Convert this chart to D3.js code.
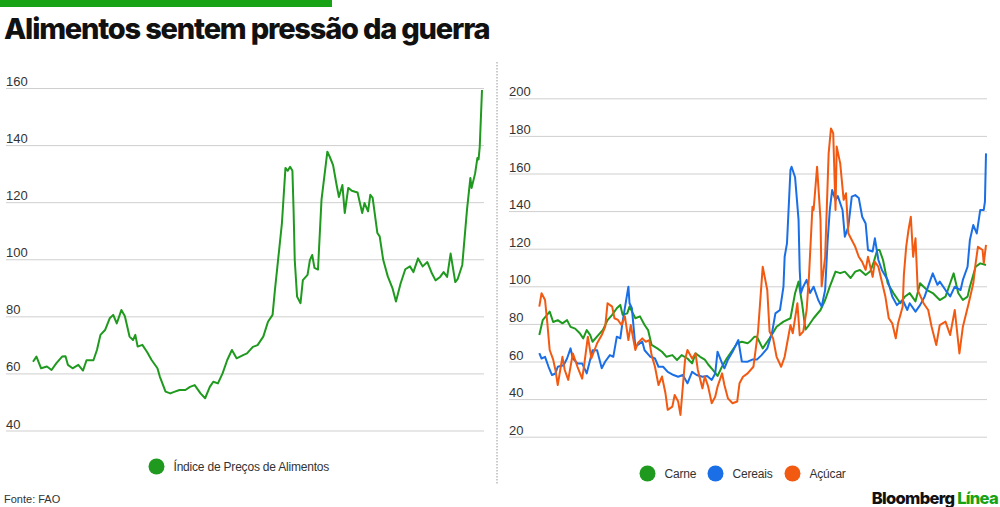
<!DOCTYPE html>
<html>
<head>
<meta charset="utf-8">
<script src="https://cdn.jsdelivr.net/npm/d3@7"></script>
<style>
  body { margin: 0; background: #fff; }
  svg { display: block; }
  .tick text { font-family: 'Liberation Sans', Arial, sans-serif; font-size: 13px; fill: #333; }
  .tick line { stroke: #cfcfcf; }
</style>
</head>
<body>
<div id="chart"></div>
<script>
// FAO indices, monthly readings ("YYYY-MM", value)
const foodIndex = [
  ['1990-01',64.1],['1990-04',65.9],['1990-08',61.8],['1991-01',62.4],['1991-05',61.2],['1991-09',63.5],
  ['1992-02',65.9],['1992-05',66],['1992-07',63],['1992-11',61.8],['1993-04',63],['1993-08',61],
  ['1993-11',64.6],['1994-05',64.6],['1994-08',68.2],['1994-11',73.5],['1995-03',75.2],['1995-07',79.3],
  ['1995-10',80.5],['1996-01',77.5],['1996-05',82.2],['1996-08',80],['1996-12',72.9],['1997-03',71.7],
  ['1997-05',73.5],['1997-07',69.4],['1997-11',70],['1998-03',67.6],['1998-07',64.7],['1998-12',61.8],
  ['1999-02',58.9],['1999-07',53.6],['1999-11',53],['2000-03',53.6],['2000-07',54.2],['2000-12',54.2],
  ['2001-04',55.3],['2001-08',55.9],['2002-01',53],['2002-05',51.3],['2002-09',55.3],['2002-12',57.1],
  ['2003-04',56.5],['2003-08',60],['2003-12',64.7],['2004-04',68.2],['2004-08',65.3],['2005-02',66.5],
  ['2005-05',67],['2005-10',69.3],['2006-02',69.9],['2006-07',72.9],['2006-11',78.1],['2007-03',80.5],
  ['2007-05',89.2],['2007-08',100.9],['2007-11',112.7],['2008-02',132],['2008-04',131],['2008-06',132.4],
  ['2008-08',131],['2008-09',117],['2008-10',99.7],['2008-12',86.9],['2009-03',84.6],['2009-05',92.7],
  ['2009-09',94.5],['2009-11',99.7],['2010-01',101.5],['2010-03',97],['2010-06',96.4],['2010-09',120.8],
  ['2011-02',137.7],['2011-04',136],['2011-07',133],['2011-10',126],['2011-12',121.8],['2012-03',126],
  ['2012-05',116.2],['2012-08',125],['2012-11',124],['2013-04',123.4],['2013-08',116.2],['2013-10',119.7],
  ['2014-01',116.8],['2014-03',122.6],['2014-05',121.5],['2014-09',109.2],['2014-11',108],['2015-02',99.8],
  ['2015-06',94],['2015-10',89.9],['2016-01',85.2],['2016-05',91.5],['2016-09',96.5],['2017-01',97.5],
  ['2017-04',95.5],['2017-08',100.3],['2017-12',97.5],['2018-04',99],['2018-08',95],['2018-11',92.6],
  ['2019-03',93.8],['2019-06',95.5],['2019-09',93.8],['2019-12',102],['2020-04',92],['2020-06',93],
  ['2020-10',98],['2021-02',117.3],['2021-05',128.5],['2021-06',125],['2021-09',130],['2021-11',135.5],
  ['2021-12',135],['2022-01',139.4],['2022-03',159.3]
]

const meat = [
  ['1990-01',74.1],['1990-04',82],['1990-10',86.5],['1991-01',81],['1991-05',82],['1991-09',80.3],
  ['1992-01',82],['1992-04',78.4],['1992-08',77.5],['1992-12',75],['1993-03',72.3],['1993-06',76.7],
  ['1993-09',74],['1993-11',70.5],['1994-04',74],['1994-08',76.8],['1994-12',82],['1995-04',84.8],
  ['1995-08',88.3],['1995-11',90.1],['1996-01',84.8],['1996-05',85.6],['1996-07',89.2],['1996-12',83],
  ['1997-04',84],['1997-08',79.4],['1997-11',76.7],['1998-02',68.8],['1998-07',67],['1998-11',65.2],
  ['1999-03',62.5],['1999-08',63.4],['1999-12',60.8],['2000-04',63.4],['2000-09',61.6],['2001-01',59],
  ['2001-04',64.3],['2001-08',62.5],['2001-12',61],['2002-03',58.4],['2002-07',55.5],['2002-11',52.3],
  ['2003-03',57.4],['2003-07',61.6],['2003-12',66.1],['2004-04',69.7],['2004-08',70.5],['2005-01',69.7],
  ['2005-03',70.6],['2005-07',73.2],['2005-09',73.2],['2006-02',67],['2006-08',72.3],['2007-02',78.5],
  ['2007-08',81.2],['2008-02',83],['2008-06',96.3],['2008-09',102.5],['2008-12',91],['2009-03',77],
  ['2009-05',78.5],['2009-10',83],['2010-04',87.4],['2010-08',92.7],['2010-12',99.8],['2011-05',107.8],
  ['2011-09',107],['2012-01',107.8],['2012-06',104.4],['2012-10',107.8],['2013-02',108.7],['2013-07',106],
  ['2013-11',108],['2014-02',113],['2014-05',119.3],['2014-07',119.3],['2014-10',114],['2015-02',101.6],
  ['2015-07',96.4],['2016-01',91],['2016-05',94.6],['2016-09',96.4],['2017-02',92],['2017-06',101.6],
  ['2017-12',98],['2018-05',96.4],['2018-11',92.7],['2019-04',94.5],['2019-08',101.6],['2019-11',106.9],
  ['2020-03',96.4],['2020-07',92.7],['2020-11',94.5],['2021-01',99.8],['2021-06',110.4],['2021-10',112.2],
  ['2022-03',111.3]
]

const cereals = [
  ['1990-01',64.4],['1990-03',61.6],['1990-06',62.5],['1990-09',57.2],['1990-12',52.8],['1991-03',53.6],
  ['1991-05',57.2],['1991-10',58],['1992-01',61.6],['1992-04',67],['1992-06',61.6],['1992-10',59],
  ['1993-02',59],['1993-06',53.7],['1993-09',61],['1993-11',66],['1994-03',66],['1994-07',56.4],
  ['1994-10',60],['1995-02',63.4],['1995-05',62.5],['1995-08',73.2],['1995-11',72.3],['1996-01',81.2],
  ['1996-06',99.8],['1996-07',91],['1996-09',88.3],['1996-12',67.9],['1997-02',68.8],['1997-06',70.6],
  ['1997-08',66],['1998-01',62.5],['1998-05',61.6],['1998-08',57.2],['1998-12',57.2],['1999-04',54.5],
  ['1999-09',52.8],['2000-01',51.9],['2000-05',52.8],['2000-09',48.4],['2001-01',54.5],['2001-05',52.8],
  ['2001-10',51.9],['2002-02',52.3],['2002-06',50.2],['2002-09',53.6],['2002-11',65.2],['2003-03',59],
  ['2003-05',56.4],['2003-08',61],['2003-12',65.2],['2004-05',71.4],['2004-08',60],['2005-01',59.9],
  ['2005-05',61],['2005-09',61],['2006-01',63.4],['2006-06',67],['2006-10',75],['2007-01',85.6],
  ['2007-05',87.4],['2007-08',99.8],['2007-09',115.7],['2007-11',122.8],['2008-02',161.9],['2008-03',163.6],
  ['2008-06',158],['2008-09',135.3],['2008-10',108.7],['2008-11',96.4],['2009-01',99.8],['2009-04',103.4],
  ['2009-07',96.4],['2009-10',99.8],['2010-02',92.7],['2010-05',89.2],['2010-08',98],['2010-10',122.8],
  ['2010-12',140.6],['2011-02',151.2],['2011-05',145.8],['2011-07',148],['2011-11',140.6],['2012-01',126.4],
  ['2012-04',131.6],['2012-07',147.7],['2012-10',148.5],['2013-01',147],['2013-04',137],['2013-07',133.4],
  ['2013-09',119.3],['2014-01',118.5],['2014-03',125.5],['2014-06',114],['2014-09',108.7],['2015-02',103.4],
  ['2015-06',94.6],['2015-10',90],['2016-03',92.7],['2016-07',87.4],['2016-09',91],['2017-02',86.5],
  ['2017-06',90],['2017-10',94.6],['2018-03',103.4],['2018-05',106.9],['2018-09',100.8],['2018-11',102.5],
  ['2019-04',98],['2019-08',94.6],['2019-12',99.8],['2020-05',98],['2020-07',103.4],['2020-11',110.4],
  ['2021-01',124.6],['2021-04',132.6],['2021-07',128.1],['2021-10',140.6],['2022-01',140.6],['2022-02',145],
  ['2022-03',170.7]
]

const sugar = [
  ['1990-01',89.2],['1990-03',96.3],['1990-06',92.7],['1990-08',80.3],['1990-10',66.1],['1991-01',61],
  ['1991-03',55.5],['1991-05',47.5],['1991-09',62.5],['1991-11',55.5],['1992-02',50.2],['1992-06',64.3],
  ['1992-10',57.2],['1993-02',50.9],['1993-04',59],['1993-07',73.2],['1993-10',61.6],['1994-03',69.7],
  ['1994-07',74.1],['1994-10',78.5],['1994-12',91],['1995-04',89.2],['1995-06',83],['1995-09',82.1],
  ['1995-12',79.4],['1996-03',84],['1996-06',71.4],['1996-08',79.4],['1996-12',66.1],['1997-02',69.7],
  ['1997-06',72.3],['1997-09',70.5],['1997-12',71.4],['1998-02',63.4],['1998-05',57.2],['1998-08',47.5],
  ['1998-11',52],['1999-02',43.1],['1999-04',34.3],['1999-08',36],['1999-10',42.2],['2000-01',38.7],
  ['2000-03',31.6],['2000-07',61.1],['2000-09',66.1],['2001-01',61.6],['2001-04',64.3],['2001-06',55.5],
  ['2001-10',45.7],['2001-12',52],['2002-03',46.6],['2002-06',37.8],['2002-09',41.3],['2002-11',46.6],
  ['2003-03',53.7],['2003-05',47.5],['2003-08',40.4],['2003-12',37.8],['2004-04',38.7],['2004-06',48.4],
  ['2004-09',51.9],['2005-01',53.7],['2005-06',57.2],['2005-10',75.9],['2006-02',110.4],['2006-06',98],
  ['2006-08',75.9],['2006-11',72.3],['2007-02',62.5],['2007-06',57.2],['2007-09',62.5],['2008-02',79.4],
  ['2008-04',75],['2008-08',91],['2008-10',74],['2009-01',75.9],['2009-04',87.4],['2009-06',105],
  ['2009-09',142.3],['2009-10',140.6],['2010-01',163.6],['2010-04',135.3],['2010-05',100],['2010-08',115.7],
  ['2010-11',170.7],['2011-01',184],['2011-03',181.4],['2011-05',140.6],['2011-06',174.3],['2011-09',165.4],
  ['2011-12',146],['2012-02',149.5],['2012-04',128.2],['2012-07',124.6],['2012-10',121],['2013-01',115.7],
  ['2013-04',113],['2013-07',108.7],['2013-09',115.7],['2014-01',105],['2014-03',113],['2014-06',110.4],
  ['2014-08',105.1],['2014-12',94.6],['2015-03',83],['2015-06',80.3],['2015-09',72.3],['2015-11',80.3],
  ['2016-03',89.2],['2016-04',106],['2016-06',121],['2016-08',130],['2016-10',137],['2016-12',115.7],
  ['2017-02',125.5],['2017-04',98],['2017-09',91],['2018-01',87.4],['2018-04',78.5],['2018-08',68.8],
  ['2018-11',79.4],['2019-04',81.2],['2019-08',74.1],['2019-12',87.4],['2020-04',64.3],['2020-07',78.5],
  ['2020-12',91],['2021-04',101.6],['2021-06',112.2],['2021-08',121],['2021-12',119.3],['2022-01',112.2],
  ['2022-03',122]
]

const leftTicks = [40, 60, 80, 100, 120, 140, 160]
const rightTicks = [20, 40, 60, 80, 100, 120, 140, 160, 180, 200]
const leftLegend = ['Índice de Preços de Alimentos']
const rightLegend = ['Carne', 'Cereais', 'Açúcar']

const green = '#1f9a1f'
const blue = '#1a6fe6'
const orange = '#f25a12'

const width = 1000
const height = 507
const parseMonth = d3.timeParse('%Y-%m')
const start = parseMonth('1990-01')
const end = parseMonth('2022-03')

const svg = d3
  .select('#chart')
  .append('svg')
  .attr('width', width)
  .attr('height', height)

// top bar and title
svg.append('rect')
  .attr('x', 0).attr('y', 0)
  .attr('width', 332).attr('height', 7)
  .attr('fill', '#17a315')

svg.append('text')
  .attr('x', 4)
  .attr('y', 39)
  .attr('font-family', 'Inter, sans-serif')
  .attr('font-weight', 800)
  .attr('font-size', 29)
  .attr('letter-spacing', -1.2)
  .attr('fill', '#111')
  .text('Alimentos sentem pressão da guerra')

// divider
svg.append('line')
  .attr('x1', 497).attr('x2', 497)
  .attr('y1', 62).attr('y2', 484)
  .attr('stroke', '#bbb')
  .attr('stroke-width', 1.5)
  .attr('stroke-dasharray', '1.5,1.5')

function panel(opts) {
  const x = d3.scaleTime().domain([start, end]).range(opts.xRange)
  const y = d3.scaleLinear().domain(opts.yDomain).range(opts.yRange)

  const g = svg.append('g')
  const gridWidth = opts.gridRange[1] - opts.gridRange[0]
  const axis = d3.axisRight(y).tickValues(opts.ticks).tickSize(gridWidth)
  g.append('g')
    .attr('class', 'axis')
    .attr('transform', 'translate(' + opts.gridRange[0] + ',0)')
    .call(axis)
    .call(a => a.select('.domain').remove())
    .call(a => a.selectAll('.tick text').attr('x', 0).attr('dy', -2.5).attr('text-anchor', 'start'))

  const line = d3.line()
    .x(d => x(parseMonth(d[0])))
    .y(d => y(d[1]))

  opts.series.forEach(s => {
    g.append('path')
      .datum(s.data)
      .attr('fill', 'none')
      .attr('stroke', s.color)
      .attr('stroke-width', 2)
      .attr('stroke-linejoin', 'round')
      .attr('d', line)
  })
}

panel({
  xRange: [33, 482],
  yDomain: [40, 160],
  yRange: [430.5, 88],
  gridRange: [6, 484],
  ticks: leftTicks,
  series: [{ data: foodIndex, color: green }]
})

panel({
  xRange: [539.3, 986],
  yDomain: [20, 200],
  yRange: [436.7, 98.3],
  gridRange: [509, 987],
  ticks: rightTicks,
  series: [
    { data: meat, color: green },
    { data: cereals, color: blue },
    { data: sugar, color: orange }
  ]
})

// legends
function legend(items, colors, xs, cy) {
  items.forEach((label, i) => {
    svg.append('circle')
      .attr('cx', xs[i]).attr('cy', cy).attr('r', 8)
      .attr('fill', colors[i])
    svg.append('text')
      .attr('x', xs[i] + 17).attr('y', cy + 4.5)
      .attr('font-family', 'Liberation Sans, Arial, sans-serif')
      .attr('font-size', 12)
      .attr('letter-spacing', -0.2)
      .attr('fill', '#333')
      .text(label)
  })
}
legend(leftLegend, [green], [156.5], 466.5)
legend(rightLegend, [green, blue, orange], [647.5, 715.5, 792.5], 473.5)

// footer
svg.append('text')
  .attr('x', 4).attr('y', 503)
  .attr('font-family', 'Liberation Sans, Arial, sans-serif')
  .attr('font-size', 11)
  .attr('fill', '#333')
  .text('Fonte: FAO')

const brand = svg.append('text')
  .attr('x', 998).attr('y', 504)
  .attr('text-anchor', 'end')
  .attr('font-family', 'Inter, sans-serif')
  .attr('font-weight', 800)
  .attr('font-size', 16.5)
  .attr('letter-spacing', -0.7)
brand.append('tspan').attr('fill', '#111').text('Bloomberg ')
brand.append('tspan').attr('fill', '#17a315').text('Línea')
</script>
</body>
</html>
